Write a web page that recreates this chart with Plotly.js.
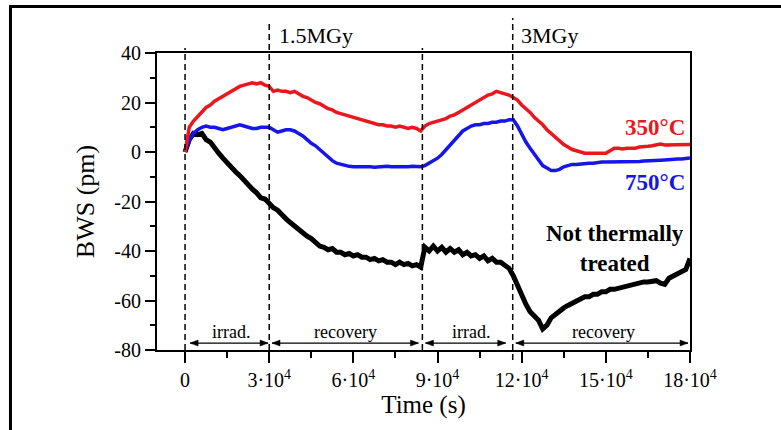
<!DOCTYPE html>
<html>
<head>
<meta charset="utf-8">
<script src="https://cdn.plot.ly/plotly-3.0.1.min.js"></script>
<style>
  html, body { margin: 0; padding: 0; background: #fff; }
  #chart { width: 781px; height: 430px; }
</style>
</head>
<body>
<div id="chart"></div>
<script>
// ---- data ----
const timeS = [0,1500,3000,4500,6000,7500,9000,10500,12000,13500,15000,16500,18000,19500,21000,22500,24000,25500,27000,28500,
  30000,31500,33000,34500,36000,37500,39000,40500,42000,43500,45000,46500,48000,49500,51000,52500,54000,55500,57000,58500,
  60000,61500,63000,64500,66000,67500,69000,70500,72000,73500,75000,76500,78000,79500,81000,82500,84000,85500,87000,88500,
  90000,91500,93000,94500,96000,97500,99000,100500,102000,103500,105000,106500,108000,109500,111000,112500,114000,115500,117000,118500,
  120000,121500,123000,124500,126000,127500,129000,130500,132000,133500,135000,136500,138000,139500,141000,142500,144000,145500,147000,148500,
  150000,151500,153000,154500,156000,157500,159000,160500,162000,163500,165000,166500,168000,169500,171000,172500,174000,175500,177000,178500,
  180000];

const bws350 = [0,10,12.5,14.5,16.5,18,19,20.5,21.5,22.5,23.5,24.5,25.5,26.5,27,27.5,28,27.5,28,27,
  26.5,24.5,25,24.5,24.5,24,24.5,23.5,22.5,22,21,20,19.5,18.5,17.5,17,16,15.5,15,14.5,
  14,13.5,13,12.5,12,11.5,11,11,10.5,10.5,10,10.5,10,9.5,10,9.5,8.5,10.5,11.5,12,
  12.5,13,13.5,14.5,15,16,17,18,19,20,21,22,23,23.5,24.5,24,23.5,23,22,21,
  19,17.5,16,14,12.5,11,9,7.5,6,4.5,3,2,1,0.5,0,-0.5,-0.5,-0.5,-0.5,-0.5,
  -0.5,0.5,1.5,1.5,1.2,1.5,1.6,1.5,2,2,2.3,2.5,3,3.2,2.8,2.8,3,2.8,2.8,3,
  3];

const bws750 = [0,4.5,7.5,9,10,10.5,10,10,9.5,9,9.5,10,10.5,11,10.5,10,9.5,9.5,10,10,
  10,9,8,8.5,9,9,8.5,7.5,6.5,5,3.5,2.5,1,-0.5,-2,-3.5,-4.5,-5,-5.5,-5.8,
  -6,-6,-5.8,-6,-6,-6.2,-6,-6,-5.8,-6,-6,-6.2,-6,-6,-5.8,-6,-6,-5.5,-4.5,-3.5,
  -2.5,-1,1,3,5,7,8.5,9.5,10.5,11,11,11.5,11.5,12,12,12.5,12.5,13,13,10.5,
  7,4,1.5,-1,-3.5,-5.5,-6.5,-7.5,-7.5,-7,-6,-5.5,-5,-5,-4.8,-4.5,-4.5,-4.5,-4.2,-4,
  -4,-4,-4,-4,-3.8,-4,-3.8,-3.8,-3.8,-3.6,-3.6,-3.5,-3.5,-3.3,-3.2,-3,-3,-2.8,-2.8,-2.6,
  -2.4];

const bwsUntreated = [0,5,7.5,7,7.5,5,4,1.5,-0.5,-2.5,-4.5,-6,-8,-9.5,-11.5,-13,-15,-16.5,-18.5,-19,
  -21,-22.5,-23.5,-25.5,-27,-28.5,-30,-31,-32.5,-34,-35,-36.5,-38,-38.5,-39.5,-39,-40.5,-40.5,-41.5,-41,
  -42,-41.5,-42.5,-42.5,-43.5,-43,-44,-43.5,-44.5,-44.5,-45.5,-44.5,-45.5,-45,-46,-45.5,-46.5,-38.5,-40,-38,
  -40,-38.5,-40.5,-39,-40.5,-39.5,-41.5,-40.5,-42,-41.5,-43,-42,-44,-43,-44.5,-44.5,-46,-47,-50,-54,
  -58,-61.5,-64.5,-66.5,-68,-71.5,-70,-67,-65.5,-64,-63,-62,-61,-60,-59.5,-58.5,-58.5,-57.5,-57.5,-56.5,
  -56.5,-55.5,-55.5,-55,-54.5,-54,-54,-53.5,-53,-52.5,-52.5,-52,-52,-53,-53.5,-51,-50,-49.5,-48.5,-47.5,
  -43];

const xTickVals = [0,30000,60000,90000,120000,150000,180000];
const xTickText = ['0','3·10<sup>4</sup>','6·10<sup>4</sup>','9·10<sup>4</sup>','12·10<sup>4</sup>','15·10<sup>4</sup>','18·10<sup>4</sup>'];
const xMinorVals = [15000,45000,75000,105000,135000,165000];
const yTickVals = [-80,-60,-40,-20,0,20,40];
const yTickText = ['-80','-60','-40','-20','0','20','40'];
const yMinorVals = [-70,-50,-30,-10,10,30];

const doseLines = [0,30000,84600,116800];        // dashed boundaries
const doseLabels = ['1.5MGy','3MGy'];
const doseLabelX = [32900,118900];
const phaseNames = ['irrad.','recovery','irrad.','recovery'];
const phaseStart = [1800,31000,85700,117900];
const phaseEnd = [29600,83200,114300,179300];
const phaseMid = [16400,57100,101800,149300];
const arrowLevel = -77.2;
const phaseLabelLevel = -72.7;

// ---- styling ----
const FONT = 'Liberation Serif, Times New Roman, serif';
const RED = 'rgb(235,22,30)';
const BLUE = 'rgb(22,22,235)';

const traces = [
  {x: timeS, y: bwsUntreated, mode: 'lines', line: {color: '#000', width: 5}, name: 'Not thermally treated'},
  {x: timeS, y: bws750, mode: 'lines', line: {color: BLUE, width: 3.5}, name: '750°C'},
  {x: timeS, y: bws350, mode: 'lines', line: {color: RED, width: 3.5}, name: '350°C'}
];

const dashTops = [1.017, 1.111, 1.017, 1.118];
const dashBottoms = [0, 0, 0, -0.034];
const shapes = doseLines.map((v, i) => ({
  type: 'line', xref: 'x', yref: 'paper', x0: v, x1: v, y0: dashBottoms[i], y1: dashTops[i],
  line: {color: '#000', width: 1.5, dash: '6px,4px'}
}));
// double-headed phase arrows
phaseStart.forEach((s, i) => {
  shapes.push({type: 'line', xref: 'x', yref: 'y', x0: s, x1: phaseEnd[i], y0: arrowLevel, y1: arrowLevel,
    line: {color: '#000', width: 1.3}});
  shapes.push({type: 'path', xref: 'x', yref: 'y', xsizemode: 'pixel', ysizemode: 'pixel',
    xanchor: phaseEnd[i], yanchor: arrowLevel, path: 'M0,0L-8,3L-8,-3Z',
    fillcolor: '#000', line: {color: '#000', width: 0.5}});
  shapes.push({type: 'path', xref: 'x', yref: 'y', xsizemode: 'pixel', ysizemode: 'pixel',
    xanchor: s, yanchor: arrowLevel, path: 'M0,0L8,3L8,-3Z',
    fillcolor: '#000', line: {color: '#000', width: 0.5}});
});
// outer frame (left and top edges)
shapes.push({type: 'line', xref: 'paper', yref: 'paper', x0: -0.2749, x1: 1.25, y0: 1.1566, y1: 1.1566, line: {color: '#000', width: 3}});
shapes.push({type: 'line', xref: 'paper', yref: 'paper', x0: -0.2749, x1: -0.2749, y0: 1.1616, y1: -0.35, line: {color: '#000', width: 3}});

const annotations = [];
doseLabels.forEach((t, i) => annotations.push({
  text: t, xref: 'x', yref: 'paper', x: doseLabelX[i], y: 1.06, xanchor: 'left', yanchor: 'middle',
  showarrow: false, font: {family: FONT, size: 22, color: '#000'}
}));
phaseNames.forEach((t, i) => annotations.push({
  text: t, xref: 'x', yref: 'y', x: phaseMid[i], y: phaseLabelLevel, xanchor: 'center', yanchor: 'middle',
  showarrow: false, font: {family: FONT, size: 18, color: '#000'}
}));
annotations.push({text: '<b>350°C</b>', xref: 'x', yref: 'y', x: 178900, y: 10.1, xanchor: 'right', yanchor: 'middle',
  showarrow: false, font: {family: FONT, size: 23, color: RED}});
annotations.push({text: '<b>750°C</b>', xref: 'x', yref: 'y', x: 178900, y: -12.3, xanchor: 'right', yanchor: 'middle',
  showarrow: false, font: {family: FONT, size: 23, color: BLUE}});
annotations.push({text: '<b>Not thermally</b><br><b>treated</b>', xref: 'x', yref: 'y', x: 153200, y: -39, xanchor: 'center', yanchor: 'middle',
  showarrow: false, font: {family: FONT, size: 23, color: '#000'}});

const layout = {
  width: 781, height: 430,
  margin: {l: 157, r: 91, t: 53, b: 80, pad: 0},
  paper_bgcolor: '#fff', plot_bgcolor: '#fff',
  showlegend: false,
  font: {family: FONT, color: '#000'},
  xaxis: {
    range: [-10000, 180000], showgrid: false, zeroline: false,
    showline: true, linecolor: '#000', linewidth: 2, mirror: true,
    ticks: 'outside', ticklen: 11, tickwidth: 2, tickcolor: '#000',
    tickmode: 'array', tickvals: xTickVals, ticktext: xTickText,
    minor: {tickmode: 'array', tickvals: xMinorVals, ticks: 'outside', ticklen: 6, tickwidth: 2, tickcolor: '#000'},
    tickfont: {family: FONT, size: 20, color: '#000'},
    title: {text: 'Time (s)', font: {family: FONT, size: 25, color: '#000'}, standoff: 4}
  },
  yaxis: {
    range: [-80, 40], showgrid: false, zeroline: false,
    showline: true, linecolor: '#000', linewidth: 2, mirror: true,
    ticks: 'outside', ticklen: 10, tickwidth: 2, tickcolor: '#000',
    tickmode: 'array', tickvals: yTickVals, ticktext: yTickText,
    minor: {tickmode: 'array', tickvals: yMinorVals, ticks: 'outside', ticklen: 5, tickwidth: 2, tickcolor: '#000'},
    tickfont: {family: FONT, size: 20, color: '#000'},
    title: {text: 'BWS (pm)', font: {family: FONT, size: 26, color: '#000'}, standoff: 12}
  },
  shapes: shapes,
  annotations: annotations
};

Plotly.newPlot('chart', traces, layout, {displayModeBar: false, staticPlot: true});
</script>
</body>
</html>
